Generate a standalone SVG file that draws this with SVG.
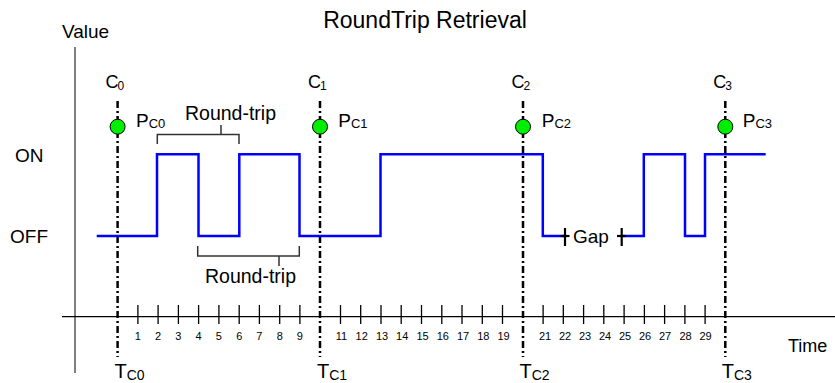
<svg xmlns="http://www.w3.org/2000/svg" width="835" height="383" viewBox="0 0 835 383">
<style>
text{font-family:"Liberation Sans",Arial,sans-serif;fill:#000}
.lbl{font-size:19px}
.num{font-size:11px;text-anchor:middle}
.tick{stroke:#000;stroke-width:1.3}
.cl{stroke:#000;stroke-width:2.5;stroke-dasharray:7 3 2 3;fill:none}
.pt{fill:#00ee00;stroke:#000;stroke-width:1}
.br{stroke:#333;stroke-width:1.5;fill:none}
.sig{stroke:#0000ff;stroke-width:2.5;fill:none;stroke-linejoin:miter}
.gm{stroke:#000;stroke-width:2.2}
</style>
<rect width="835" height="383" fill="#fff"/>
<g id="title"><text x="425" y="28" font-size="23" text-anchor="middle">RoundTrip Retrieval</text></g>
<g id="axes">
<line x1="75" y1="47" x2="75" y2="373" stroke="#555" stroke-width="1.5"/>
<line x1="62" y1="316.7" x2="835" y2="316.7" stroke="#000" stroke-width="1.2"/>
<text class="lbl" x="62" y="38">Value</text>
<text class="lbl" x="15" y="162">ON</text>
<text class="lbl" x="10" y="243">OFF</text>
<text x="788" y="352" font-size="18">Time</text>
</g>
<g id="ticks">
<line class="tick" x1="137.9" y1="305" x2="137.9" y2="324"/><text class="num" x="137.9" y="340">1</text>
<line class="tick" x1="158.1" y1="305" x2="158.1" y2="324"/><text class="num" x="158.1" y="340">2</text>
<line class="tick" x1="178.4" y1="305" x2="178.4" y2="324"/><text class="num" x="178.4" y="340">3</text>
<line class="tick" x1="198.6" y1="305" x2="198.6" y2="324"/><text class="num" x="198.6" y="340">4</text>
<line class="tick" x1="218.9" y1="305" x2="218.9" y2="324"/><text class="num" x="218.9" y="340">5</text>
<line class="tick" x1="239.2" y1="305" x2="239.2" y2="324"/><text class="num" x="239.2" y="340">6</text>
<line class="tick" x1="259.4" y1="305" x2="259.4" y2="324"/><text class="num" x="259.4" y="340">7</text>
<line class="tick" x1="279.7" y1="305" x2="279.7" y2="324"/><text class="num" x="279.7" y="340">8</text>
<line class="tick" x1="299.9" y1="305" x2="299.9" y2="324"/><text class="num" x="299.9" y="340">9</text>
<line class="tick" x1="340.5" y1="305" x2="340.5" y2="324"/><text class="num" x="341.5" y="340">11</text>
<line class="tick" x1="360.7" y1="305" x2="360.7" y2="324"/><text class="num" x="361.7" y="340">12</text>
<line class="tick" x1="381.0" y1="305" x2="381.0" y2="324"/><text class="num" x="382" y="340">13</text>
<line class="tick" x1="401.2" y1="305" x2="401.2" y2="324"/><text class="num" x="402.2" y="340">14</text>
<line class="tick" x1="421.5" y1="305" x2="421.5" y2="324"/><text class="num" x="422.5" y="340">15</text>
<line class="tick" x1="441.8" y1="305" x2="441.8" y2="324"/><text class="num" x="442.8" y="340">16</text>
<line class="tick" x1="462.0" y1="305" x2="462.0" y2="324"/><text class="num" x="463" y="340">17</text>
<line class="tick" x1="482.3" y1="305" x2="482.3" y2="324"/><text class="num" x="483.3" y="340">18</text>
<line class="tick" x1="502.5" y1="305" x2="502.5" y2="324"/><text class="num" x="503.5" y="340">19</text>
<line class="tick" x1="543.1" y1="305" x2="543.1" y2="324"/><text class="num" x="545" y="340">21</text>
<line class="tick" x1="563.3" y1="305" x2="563.3" y2="324"/><text class="num" x="565" y="340">22</text>
<line class="tick" x1="583.6" y1="305" x2="583.6" y2="324"/><text class="num" x="585" y="340">23</text>
<line class="tick" x1="603.8" y1="305" x2="603.8" y2="324"/><text class="num" x="605" y="340">24</text>
<line class="tick" x1="624.1" y1="305" x2="624.1" y2="324"/><text class="num" x="625" y="340">25</text>
<line class="tick" x1="644.4" y1="305" x2="644.4" y2="324"/><text class="num" x="645" y="340">26</text>
<line class="tick" x1="664.6" y1="305" x2="664.6" y2="324"/><text class="num" x="665" y="340">27</text>
<line class="tick" x1="684.9" y1="305" x2="684.9" y2="324"/><text class="num" x="685.5" y="340">28</text>
<line class="tick" x1="705.1" y1="305" x2="705.1" y2="324"/><text class="num" x="705.5" y="340">29</text>
</g>
<g id="connectors">
<line class="cl" x1="117.6" y1="101" x2="117.6" y2="357"/>
<line class="cl" x1="320" y1="101" x2="320" y2="357"/>
<line class="cl" x1="523" y1="101" x2="523" y2="357"/>
<line class="cl" x1="725.3" y1="101" x2="725.3" y2="357"/>
</g>
<g id="signal">
<path class="sig" d="M96.7,236 H157 V154.3 H198.5 V236 H239.3 V154.3 H299.5 V236 H380.5 V154.3 H542.8 V236 H565"/>
<path class="sig" d="M621.7,236 H643.8 V154.3 H685 V236 H705 V154.3 H765.7"/>
</g>
<g id="gap">
<line class="gm" x1="565" y1="228" x2="565" y2="246"/><line class="gm" x1="560.5" y1="236" x2="569.5" y2="236"/>
<line class="gm" x1="621.7" y1="228" x2="621.7" y2="246"/><line class="gm" x1="617" y1="236" x2="626" y2="236"/>
<text class="lbl" x="573" y="243">Gap</text>
</g>
<g id="roundtrip-top">
<path class="br" d="M157.3,144 V134.5 H239 V144 M221,134.5 V125"/>
<text x="185" y="120" font-size="19.5">Round-trip</text>
</g>
<g id="roundtrip-bottom">
<path class="br" d="M197.7,246 V256 H299.3 V246 M279,256 V266"/>
<text x="205" y="283" font-size="19.5">Round-trip</text>
</g>
<g id="C0">
<circle class="pt" cx="117.6" cy="126.7" r="7.5"/>
<text x="105.5" y="88" font-size="18">C<tspan font-size="12" dx="-1" dy="1.5">0</tspan></text>
<text x="136" y="126.7" font-size="19">P<tspan font-size="13" dy="1">C0</tspan></text>
<text x="114.5" y="378" font-size="20">T<tspan font-size="14" dy="1.5">C0</tspan></text>
</g>
<g id="C1">
<circle class="pt" cx="320" cy="126.7" r="7.5"/>
<text x="308" y="88" font-size="18">C<tspan font-size="12" dx="-1" dy="1.5">1</tspan></text>
<text x="338.3" y="126.7" font-size="19">P<tspan font-size="13" dy="1">C1</tspan></text>
<text x="317" y="378" font-size="20">T<tspan font-size="14" dy="1.5">C1</tspan></text>
</g>
<g id="C2">
<circle class="pt" cx="523" cy="126.7" r="7.5"/>
<text x="511.5" y="88" font-size="18">C<tspan font-size="12" dx="-1" dy="1.5">2</tspan></text>
<text x="541.7" y="126.7" font-size="19">P<tspan font-size="13" dy="1">C2</tspan></text>
<text x="519.5" y="378" font-size="20">T<tspan font-size="14" dy="1.5">C2</tspan></text>
</g>
<g id="C3">
<circle class="pt" cx="725.3" cy="126.7" r="7.5"/>
<text x="713.3" y="88" font-size="18">C<tspan font-size="12" dx="-1" dy="1.5">3</tspan></text>
<text x="742.7" y="126.7" font-size="19">P<tspan font-size="13" dy="1">C3</tspan></text>
<text x="721.7" y="378" font-size="20">T<tspan font-size="14" dy="1.5">C3</tspan></text>
</g>
</svg>
